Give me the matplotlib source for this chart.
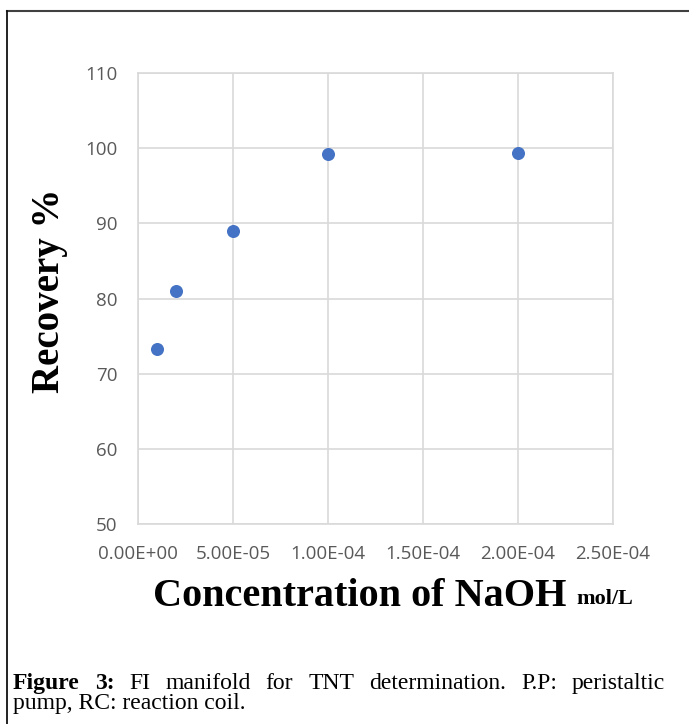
import matplotlib
matplotlib.use("Agg")
import matplotlib.pyplot as plt
from matplotlib.lines import Line2D
from matplotlib.ticker import FuncFormatter, MultipleLocator

# data
naoh = [1.0e-5, 2.0e-5, 5.0e-5, 1.0e-4, 2.0e-4]
recovery = [73.3, 81.0, 89.0, 99.2, 99.4]

x_label = "Concentration of NaOH"
x_unit = "mol/L"
y_label = "Recovery %"
cap_line1 = [("Figure", "bold"), ("3:", "bold"), ("FI", "normal"), ("manifold", "normal"),
             ("for", "normal"), ("TNT", "normal"), ("determination.", "normal"),
             ("P.P:", "normal"), ("peristaltic", "normal")]
cap_line2 = "pump, RC: reaction coil."

W, H = 689, 724
fig = plt.figure(figsize=(W / 100, H / 100), dpi=100)

def fx(px):
    return px / W

def fy(py):
    return 1 - py / H

ax = fig.add_axes([fx(138), fy(524), fx(613) - fx(138), fy(73) - fy(524)])
ax.scatter(naoh, recovery, s=88, color="#4472C4", zorder=3, linewidths=0)
ax.set_xlim(0, 2.5e-4)
ax.set_ylim(50, 110)
ax.xaxis.set_major_locator(MultipleLocator(5e-5))
ax.yaxis.set_major_locator(MultipleLocator(10))
ax.xaxis.set_major_formatter(FuncFormatter(lambda v, p: f"{v:.2E}"))
ax.grid(True, color="#d9d9d9", linewidth=1.2)
ax.set_axisbelow(True)
for s in ax.spines.values():
    s.set_color("#d9d9d9")
    s.set_linewidth(1.2)
ax.tick_params(axis="both", length=0, labelcolor="#595959", labelsize=13.5)
ax.tick_params(axis="x", pad=15)
ax.tick_params(axis="y", pad=15)
for lab in ax.get_xticklabels() + ax.get_yticklabels():
    lab.set_fontfamily("Open Sans")

serif = "Liberation Serif"
fig.text(fx(360), fy(606), x_label, ha="center", va="baseline", fontsize=29,
         fontweight="bold", family=serif)
fig.text(fx(576), fy(604), x_unit, ha="left", va="baseline", fontsize=16,
         fontweight="bold", family=serif)
fig.text(fx(50), fy(291), y_label, ha="center", va="center", rotation=90,
         fontsize=28, fontweight="bold", family=serif)

# caption, first line justified
renderer = fig.canvas.get_renderer()
words = []
for w, wt in cap_line1:
    t = fig.text(0, fy(689), w, ha="left", va="baseline", fontsize=17,
                 fontweight=wt, family=serif)
    words.append(t)
widths = [t.get_window_extent(renderer).width for t in words]
x0, x1 = 13, 665
gap = (x1 - x0 - sum(widths)) / (len(words) - 1)
xpos = x0
for t, wd in zip(words, widths):
    t.set_x(fx(xpos))
    xpos += wd + gap
fig.text(fx(13), fy(709), cap_line2, ha="left", va="baseline", fontsize=17,
         family=serif)

# border of the figure box
fig.add_artist(Line2D([fx(7), 1], [fy(11), fy(11)], transform=fig.transFigure,
                      color="#404040", linewidth=1.5))
fig.add_artist(Line2D([fx(7), fx(7)], [0, fy(11)], transform=fig.transFigure,
                      color="#111111", linewidth=1.3))

fig.savefig("out.png", dpi=100)
